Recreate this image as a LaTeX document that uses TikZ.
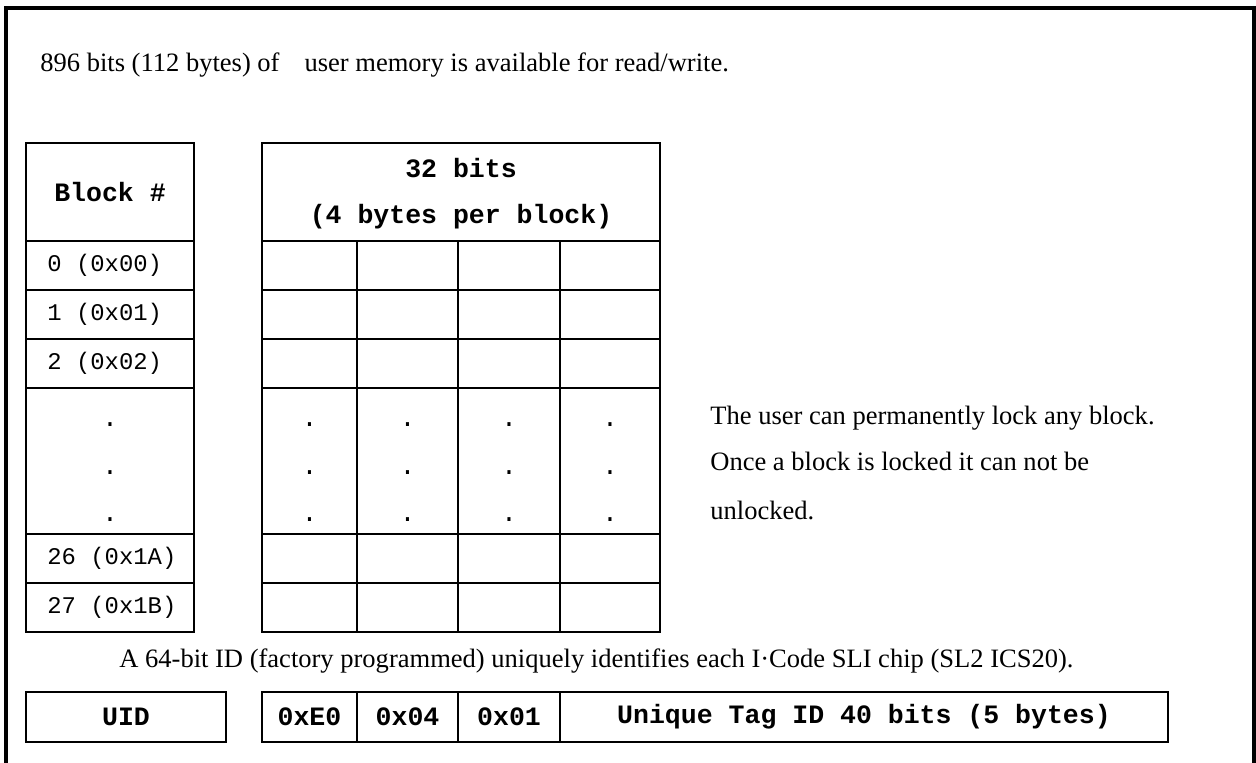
\documentclass[tikz,border=0pt]{standalone}
\usepackage{fontspec}
\setmainfont{Liberation Serif}
\setmonofont{Liberation Mono}
\usepackage{tikz}
\newcommand{\bodysize}{\fontsize{15.1pt}{18pt}\selectfont}
\newcommand{\rowsize}{\fontsize{13.6pt}{16pt}\selectfont}

\begin{document}
\begin{tikzpicture}[x=0.02cm, y=-0.02cm,
    frame/.style={line width=2.3pt},
    grid/.style={line width=1.15pt},
    note/.style={font=\bodysize\rmfamily, anchor=base west, inner sep=0pt},
    head/.style={font=\bodysize\ttfamily\bfseries, inner sep=0pt},
    idx/.style={font=\rowsize\ttfamily, anchor=west, inner sep=0pt},
    dot/.style={font=\bodysize\ttfamily, anchor=base, inner sep=0pt},
]
\useasboundingbox (0,0) rectangle (1256,763);
% outer frame, open at the bottom
\draw[frame] (6,763) -- (6,8) -- (1254,8) -- (1254,763);

\node[note] (intro) at (40,72) {896 bits (112 bytes) of\hspace{0.5cm}user memory is available for read/write.};

% block number column
\draw[grid] (26,143) rectangle (194,632);
\foreach \y in {241,290,339,388,534,583}
    \draw[grid] (26,\y) -- (194,\y);
\node[head] (blk) at (110,192) {Block \#};
\node[idx] (r0) at (47,265.5) {0 (0x00)};
\node[idx] (r1) at (47,314.5) {1 (0x01)};
\node[idx] (r2) at (47,363.5) {2 (0x02)};
\node[idx] (r26) at (47,558.5) {26 (0x1A)};
\node[idx] (r27) at (47,607.5) {27 (0x1B)};

% 32 bit data blocks
\draw[grid] (262,143) rectangle (660,632);
\foreach \y in {241,290,339,388,534,583}
    \draw[grid] (262,\y) -- (660,\y);
\foreach \x in {357,458,560}
    \draw[grid] (\x,241) -- (\x,632);
\node[head] (bits) at (461,168) {32 bits};
\node[head] (bpb) at (461,217) {(4 bytes per block)};

% skipped rows
\foreach \y [count=\i] in {426,474,521} {
    \node[dot] (ld\i) at (110,\y) {.};
    \foreach \x [count=\j] in {309.5,407.5,509,610}
        \node[dot] (d\i\j) at (\x,\y) {.};
}

\node[note] (lock1) at (710,424) {The user can permanently lock any block.};
\node[note] (lock2) at (710,470) {Once a block is locked it can not be};
\node[note] (lock3) at (710,519) {unlocked.};

% unique identifier
\node[note] (uidnote) at (119,667) {A 64-bit ID (factory programmed) uniquely identifies each I·Code SLI chip (SL2 ICS20).};
\draw[grid] (26,692) rectangle (226,742);
\node[head] (uid) at (126,717) {UID};
\draw[grid] (262,692) rectangle (1168,742);
\foreach \x in {357,458,560}
    \draw[grid] (\x,692) -- (\x,742);
\node[head] (e0) at (309.5,717) {0xE0};
\node[head] (x04) at (407.5,717) {0x04};
\node[head] (x01) at (509,717) {0x01};
\node[head] (tagid) at (864,717) {Unique Tag ID 40 bits (5 bytes)};
\end{tikzpicture}
\end{document}
